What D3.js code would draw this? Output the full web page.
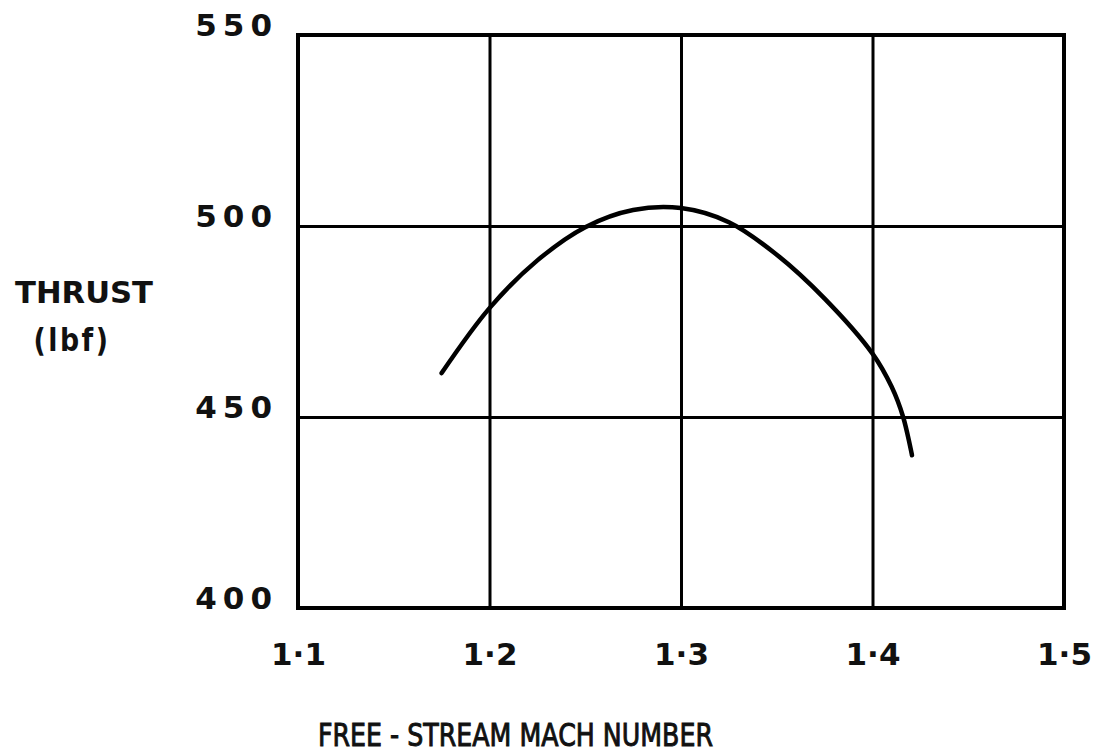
<!DOCTYPE html>
<html>
<head>
    <title>Thrust vs Mach number</title>
    <script src="https://d3js.org/d3.v7.min.js"></script>
    <style>
        body { margin: 0; background: #fff; }
        .lbl {
            font-family: "DejaVu Sans", sans-serif;
            font-weight: bold;
            fill: #111;
        }
        .grid line { stroke: #000; stroke-width: 3; }
        .grid path { display: none; }
    </style>
</head>
<body>
    <svg id="chart"></svg>

    <script>
        // curve
        var mach   = [1.175, 1.200, 1.225, 1.250, 1.275, 1.300, 1.325, 1.350, 1.375, 1.400, 1.410, 1.416, 1.4206];
        var thrust = [461.5, 478.5, 491.0, 499.7, 504.2, 504.7, 501.0, 492.5, 481.0, 466.6, 457.9, 450.0, 440.0];

        var xTicks = [1.1, 1.2, 1.3, 1.4, 1.5];
        var xTickLabels = ["1·1", "1·2", "1·3", "1·4", "1·5"];
        var yTicks = [400, 450, 500, 550];

        var W = 1098, H = 754;
        var svg = d3.select("#chart").attr("width", W).attr("height", H);

        var x = d3.scaleLinear().domain([1.1, 1.5]).range([298, 1064]);
        var y = d3.scaleLinear().domain([400, 550]).range([608, 35]);

        // grid lines
        svg.append("g")
            .attr("class", "grid")
            .attr("transform", "translate(0," + y(400) + ")")
            .call(d3.axisBottom(x).tickValues(xTicks).tickSize(-(y(400) - y(550))).tickFormat(""));
        svg.append("g")
            .attr("class", "grid")
            .attr("transform", "translate(" + x(1.1) + ",0)")
            .call(d3.axisLeft(y).tickValues(yTicks).tickSize(-(x(1.5) - x(1.1))).tickFormat(""));

        // frame
        svg.append("rect")
            .attr("x", x(1.1)).attr("y", y(550))
            .attr("width", x(1.5) - x(1.1)).attr("height", y(400) - y(550))
            .attr("fill", "none").attr("stroke", "#000").attr("stroke-width", 4);

        // tick labels
        var xAx = svg.append("g")
            .attr("transform", "translate(0," + y(400) + ")")
            .call(d3.axisBottom(x).tickValues(xTicks).tickSize(0)
                .tickFormat(function(d, i) { return xTickLabels[i]; }));
        xAx.select(".domain").remove();
        xAx.selectAll("text")
            .attr("class", "lbl")
            .attr("y", 57).attr("dy", 0)
            .style("font-size", "31px");

        var yAx = svg.append("g")
            .attr("transform", "translate(" + x(1.1) + ",0)")
            .call(d3.axisLeft(y).tickValues(yTicks).tickSize(0).tickPadding(20));
        yAx.select(".domain").remove();
        yAx.selectAll("text")
            .attr("class", "lbl")
            .attr("dy", 0)
            .style("font-size", "31px").style("letter-spacing", "6px");

        // the curve
        var pts = mach.map(function(m, i) { return [m, thrust[i]]; });
        var line = d3.line()
            .x(function(d) { return x(d[0]); })
            .y(function(d) { return y(d[1]); })
            .curve(d3.curveCatmullRom.alpha(0.5));
        svg.append("path")
            .datum(pts)
            .attr("d", line)
            .attr("fill", "none")
            .attr("stroke", "#000")
            .attr("stroke-width", 4.5)
            .attr("stroke-linecap", "round");

        // axis titles
        svg.append("text").attr("class", "lbl")
            .attr("x", 84).attr("y", 303).attr("text-anchor", "middle")
            .attr("textLength", 138).attr("lengthAdjust", "spacingAndGlyphs")
            .style("font-size", "31px")
            .text("THRUST");
        svg.append("text").attr("class", "lbl")
            .attr("x", 72).attr("y", 351).attr("text-anchor", "middle")
            .attr("textLength", 77).attr("lengthAdjust", "spacingAndGlyphs")
            .style("font-size", "32px").style("letter-spacing", "3px")
            .text("(lbf)");
        svg.append("text").attr("class", "lbl")
            .attr("x", 318).attr("y", 746)
            .attr("textLength", 395).attr("lengthAdjust", "spacingAndGlyphs")
            .style("font-size", "32px").style("font-weight", "normal")
            .attr("stroke", "#111").attr("stroke-width", 1)
            .text("FREE - STREAM  MACH  NUMBER");
    </script>
</body>
</html>
